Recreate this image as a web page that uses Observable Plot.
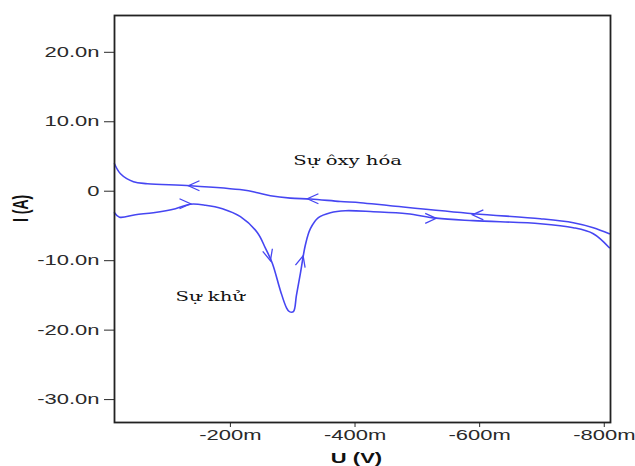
<!DOCTYPE html>
<html><head><meta charset="utf-8">
<script src="https://cdn.jsdelivr.net/npm/d3@7"></script>
<script src="https://cdn.jsdelivr.net/npm/@observablehq/plot@0.6"></script>
<style>body{margin:0;background:#fff;} svg{display:block;}</style>
</head><body><div id="chart"></div>
<script>
// Forward scan (reduction), U in mV, I in nA
const redU = [-14, -22.0, -47.6, -76.5, -111.8, -135.9, -160.0, -187.2, -216.1, -243.4, -256.2, -267.4, -280.3, -289.9, -294.7, -301.1, -305.9, -312.4, -320.4, -328.4, -341.2, -360.5, -384.5, -429.5, -483.7, -530.3, -589.9, -697.4, -750.3, -782.4, -808.1];
const redI = [-3.09, -3.74, -3.38, -3.09, -2.52, -1.87, -2.01, -2.52, -3.67, -5.97, -8.2, -10.4, -14.32, -16.76, -17.34, -17.34, -15.04, -11.8, -7.70, -5.40, -3.81, -3.09, -2.81, -2.95, -3.24, -3.88, -4.24, -4.68, -5.25, -6.12, -8.13];
// Reverse scan (oxidation)
const oxU = [-808.1, -782.4, -750.3, -697.4, -589.9, -456.7, -408.6, -376.5, -328.4, -296.3, -264.2, -243.4, -220.9, -135.9, -66.9, -44.4, -23.6, -14];
const oxI = [-6.12, -5.25, -4.53, -3.96, -3.24, -2.09, -1.65, -1.47, -1.12, -1.0, -0.65, -0.22, 0.17, 0.79, 1.08, 1.37, 2.52, 3.96];
// Direction arrows
const arrowU = [-132.7, -323.6, -588.3, -136.0, -264.2, -316.7, -530.3];
const arrowI = [0.79, -1.08, -3.4, -1.8, -10.0, -9.3, -3.9];
const arrowAngle = [-90, -90, -90, 90, 165, 15, 90];
// Annotations
const annotText = ["Sự ôxy hóa", "Sự khử"];
const annotU = [-301, -111.8];
const annotI = [4.39, -15.3];
// Ticks
const xTicks = [-200, -400, -600, -800];
const yTicks = [-30, -20, -10, 0, 10, 20];

const toRows = (U, I) => U.map((u, i) => ({u, i: I[i]}));
const redRows = toRows(redU, redI);
const oxRows = toRows(oxU, oxI);
const arrowRows = arrowU.map((u, k) => ({u, i: arrowI[k], a: arrowAngle[k]}));
const annotRows = annotText.map((t, k) => ({t, u: annotU[k], i: annotI[k]}));

const BLUE = "#4646f2";
const chevron = {
  draw(ctx, size) {
    ctx.moveTo(-5, 11);
    ctx.lineTo(0, 0);
    ctx.lineTo(5, 11);
  }
};

const svg = Plot.plot({
  width: 635,
  height: 466,
  marginLeft: 114,
  marginRight: 25,
  marginTop: 15,
  marginBottom: 44,
  style: {fontFamily: "'Liberation Sans', Arial, sans-serif", fontSize: "14px", color: "#2a2a2a", background: "#fff"},
  x: {domain: [-14, -810], ticks: xTicks, tickFormat: d => `${d}m`, tickSize: 5, tickPadding: 3, label: null},
  y: {domain: [-33.3, 25.3], ticks: yTicks, tickFormat: d => d === 0 ? "0" : `${d.toFixed(1)}n`, tickSize: 10, tickPadding: 5, label: null},
  marks: [
    Plot.line(redRows, {x: "u", y: "i", stroke: BLUE, strokeWidth: 1.6, curve: "catmull-rom"}),
    Plot.line(oxRows, {x: "u", y: "i", stroke: BLUE, strokeWidth: 1.6, curve: "catmull-rom"}),
    Plot.dot(arrowRows, {x: "u", y: "i", rotate: "a", symbol: chevron, r: 5, stroke: BLUE, strokeWidth: 1.3, fill: "none"}),
    Plot.text(annotRows, {x: "u", y: "i", text: "t", textAnchor: "start", fontFamily: "'DejaVu Serif', serif", fontSize: 12.5, fill: "#111"}),
    Plot.text(["I (A)"], {frameAnchor: "left", text: d => d, rotate: -90, dx: -94, dy: 3, fontWeight: "bold", fontSize: 14, fill: "#111"}),
    Plot.text(["U (V)"], {frameAnchor: "bottom", text: d => d, dx: -6, dy: 40, fontWeight: "bold", fontSize: 14, fill: "#111"}),
    Plot.frame({stroke: "#222", strokeWidth: 1.8})
  ]
});
document.getElementById("chart").append(svg);

// The reference is horizontally stretched: widen text glyphs accordingly
const K = 1.57;
svg.querySelectorAll("text").forEach(t => {
  if (!t.textContent) return;
  const tr = t.getAttribute("transform") || "";
  if (/rotate/.test(tr)) {
    t.setAttribute("transform", tr.replace("rotate(", `scale(${K},1) rotate(`));
    return;
  }
  const b0 = t.getBBox();
  const len = t.getComputedTextLength();
  t.setAttribute("textLength", len * K);
  t.setAttribute("lengthAdjust", "spacingAndGlyphs");
  const b1 = t.getBBox();
  const anchor = getComputedStyle(t).textAnchor;
  let shift;
  if (anchor === "end") shift = (b0.x + b0.width) - (b1.x + b1.width);
  else if (anchor === "middle") shift = (b0.x + b0.width / 2) - (b1.x + b1.width / 2);
  else shift = b0.x - b1.x;
  if (Math.abs(shift) > 0.01) t.setAttribute("transform", `translate(${shift},0) ${tr}`);
});
</script></body></html>
